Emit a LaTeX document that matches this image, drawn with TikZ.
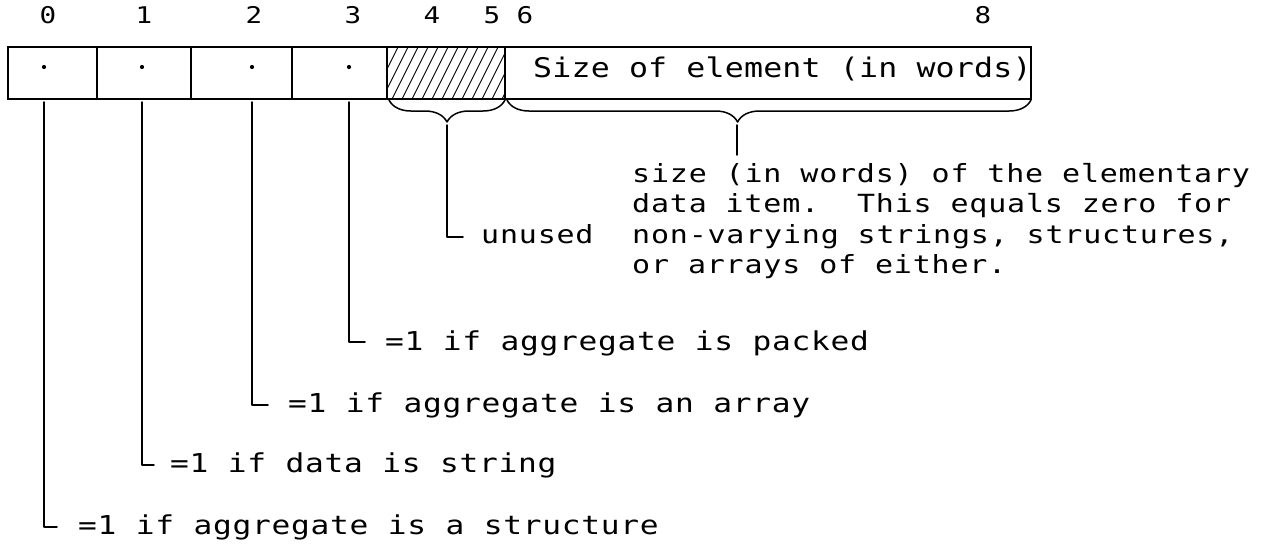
\documentclass[tikz,border=0pt]{standalone}
\usepackage{fontspec}
\usetikzlibrary{decorations.pathreplacing}
% wide typewriter-like faces on a fixed character pitch
\newfontfamily\digitfont[FakeStretch=1.2]{DejaVu Sans Mono}
\newfontfamily\fieldfont[FakeStretch=1.17, LetterSpace=0.7]{DejaVu Sans Mono}
\newfontfamily\labelfont[FakeStretch=1.2, LetterSpace=2.7]{DejaVu Sans Mono}
\newfontfamily\notefont[FakeStretch=1.2, LetterSpace=3.2]{DejaVu Sans Mono}
\newcommand\gridspace[1]{\frenchspacing\spaceskip #1\xspaceskip #1\relax}

\tikzset{
  ink/.style={line width=1.5pt, line cap=round, line join=round},
  cell/.style={draw, line width=1.5pt, minimum height=52pt, inner sep=0pt, outer sep=0pt},
  bitno/.style={font=\digitfont\fontsize{23}{26}\selectfont, inner sep=0pt, anchor=base},
  fieldtext/.style={font=\fieldfont\fontsize{27}{30}\selectfont\gridspace{19.2pt}, inner sep=0pt, anchor=base west},
  lbl/.style={font=\labelfont\fontsize{26}{30}\selectfont\gridspace{19.5pt}, inner sep=0pt, anchor=base west},
  note/.style={font=\notefont\fontsize{25}{30}\selectfont\gridspace{18.9pt}, inner sep=0pt, anchor=base west},
  bitdot/.style={fill, circle, inner sep=0pt, minimum size=4.2pt},
  curly/.style={ink, decorate, decoration={brace, mirror, amplitude=22pt}},
}

\begin{document}
\begin{tikzpicture}[x=1pt, y=-1pt]
\useasboundingbox (0,0) rectangle (1282,549);

% bit numbers above the word
\node[bitno] (n0) at (48,23) {0};
\node[bitno] (n1) at (144,23) {1};
\node[bitno] (n2) at (254,23) {2};
\node[bitno] (n3) at (353,23) {3};
\node[bitno] (n4) at (432,23) {4};
\node[bitno] (n5) at (492,23) {5};
\node[bitno] (n6) at (525,23) {6};
\node[bitno] (n8) at (983,23) {8};

% hatching of the unused bits 4-5
\begin{scope}
  \clip (387,47) rectangle (505,99);
  \foreach \x in {362,372,...,522}
    \draw[line width=0.9pt] (\x,99) -- (\x+26,47);
\end{scope}

% the fields of the word
\node[cell, minimum width=89pt]  (c0)  at (52.5,73) {};
\node[cell, minimum width=94pt]  (c1)  at (144,73) {};
\node[cell, minimum width=101pt] (c2)  at (241.5,73) {};
\node[cell, minimum width=95pt]  (c3)  at (339.5,73) {};
\node[cell, minimum width=118pt] (c45) at (446,73) {};
\node[cell, minimum width=526pt] (c6)  at (768,73) {};
\node[fieldtext] (sz) at (533,77) {Size of element (in words)};

% one-bit flags
\node[bitdot] (d0) at (44,67) {};
\node[bitdot] (d1) at (142,67) {};
\node[bitdot] (d2) at (252,67) {};
\node[bitdot] (d3) at (349,67) {};

% braces under the multi-bit fields
\draw[curly] (389,100) -- (505,100);
\draw[curly, decoration={aspect=0.44}] (507,100) -- (1031,100);
\coordinate (bu) at (447,123);
\coordinate (bs) at (737,123);

% explanations
\node[lbl] (t3) at (385,350) {=1 if aggregate is packed};
\node[lbl] (t2) at (288,412) {=1 if aggregate is an array};
\node[lbl] (t1) at (170,472) {=1 if data is string};
\node[lbl] (t0) at (78,534)  {=1 if aggregate is a structure};
\node[note] (un) at (481,243) {unused};
\node[note] (p1) at (632,182)   {size (in words) of the elementary};
\node[note] (p2) at (632,212.5) {data item.\ \ This equals zero for};
\node[note] (p3) at (632,243)   {non-varying strings, structures,};
\node[note] (p4) at (632,273.5) {or arrays of either.};

% leaders
\coordinate (e0) at (57,527);
\coordinate (e1) at (154,465);
\coordinate (e2) at (268,405);
\coordinate (e3) at (365,342);
\coordinate (eu) at (463,237);
\coordinate (es) at (737,155);
\draw[ink] (d0 |- c0.south) ++(0,3) |- (e0);
\draw[ink] (d1 |- c1.south) ++(0,3) |- (e1);
\draw[ink] (d2 |- c2.south) ++(0,3) |- (e2);
\draw[ink] (d3 |- c3.south) ++(0,3) |- (e3);
\draw[ink] (bu) ++(0,2) |- (eu);
\draw[ink] (bs) ++(0,2) -- (es);
\end{tikzpicture}
\end{document}
